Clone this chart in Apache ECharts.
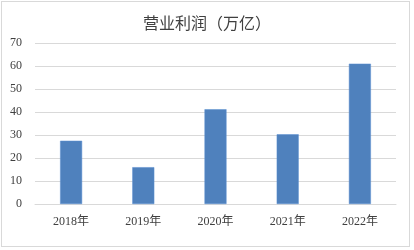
<!DOCTYPE html>
<html><head><meta charset="utf-8">
<script src="https://cdn.jsdelivr.net/npm/echarts@6/dist/echarts.min.js"></script>
<style>
html,body{margin:0;padding:0;background:#fff;}
#frame{position:absolute;left:1px;top:1px;width:407px;height:244px;border:1px solid #d9d9d9;}
#c{position:absolute;left:0;top:0;width:414px;height:250px;}
</style></head><body>
<div id="frame"></div>
<div id="c"></div>
<script>
const categories = ['2018年','2019年','2020年','2021年','2022年'];
const profits = [27.5, 16.0, 41.2, 30.3, 61.0];
const yTicks = {min:0, max:70, interval:10};
const title = '营业利润（万亿）';

const chart = echarts.init(document.getElementById('c'), null, {renderer:'canvas'});
chart.setOption({
  animation:false,
  title:{text:title, left:'center', top:10, textStyle:{fontFamily:'"Noto Sans CJK SC", sans-serif', fontSize:16, fontWeight:'normal', color:'#404040'}},
  grid:{left:35, right:18, top:43, bottom:46, containLabel:false},
  xAxis:{type:'category', data:categories,
    axisLine:{lineStyle:{color:'#d9d9d9'}}, axisTick:{show:false},
    axisLabel:{color:'#404040', fontSize:12, margin:12, fontFamily:'"Liberation Serif","Noto Sans CJK SC", serif'}},
  yAxis:{type:'value', min:yTicks.min, max:yTicks.max, interval:yTicks.interval,
    axisLine:{show:false}, axisTick:{show:false},
    splitLine:{lineStyle:{color:'#d9d9d9'}},
    axisLabel:{color:'#404040', fontSize:12, margin:13, fontFamily:'"Liberation Serif", serif'}},
  series:[{type:'bar', data:profits, barWidth:22,
    itemStyle:{color:'#4f81bd', borderColor:'#5b8fd0', borderWidth:0.5}}]
});
</script></body></html>
